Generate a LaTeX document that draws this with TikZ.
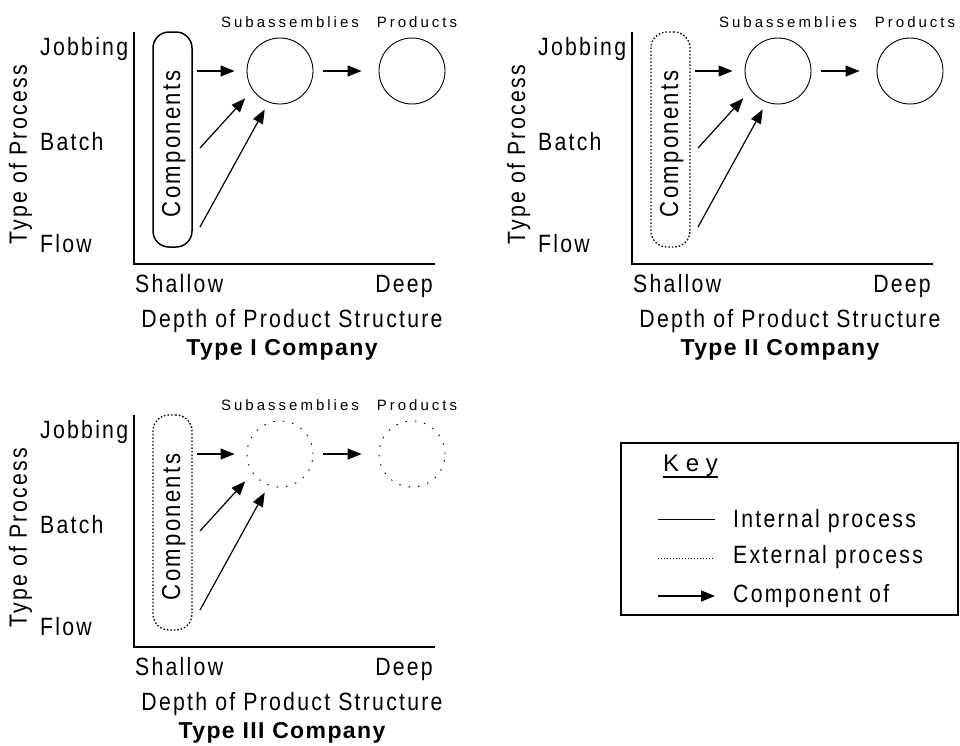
\documentclass[tikz,border=0pt]{standalone}
\usepackage{fontspec}
\setmainfont{Liberation Sans}[FakeStretch=0.85, LetterSpace=9]
\newfontfamily\plainfam{Liberation Sans}
\usetikzlibrary{arrows.meta}
\tikzset{
  lab/.style={font=\fontsize{25}{29}\selectfont, inner sep=0pt},
  complab/.style={font=\fontsize{26}{30}\selectfont, inner sep=0pt},
  small/.style={font=\plainfam\fontsize{15}{18}\selectfont\addfontfeature{LetterSpace=20}, inner sep=0pt},
  ttl/.style={font=\plainfam\fontsize{23}{27}\selectfont\bfseries\addfontfeature{LetterSpace=6}, inner sep=0pt},
  keyt/.style={font=\plainfam\fontsize{24}{28}\selectfont\addfontfeature{LetterSpace=28}, inner sep=0pt},
  axis/.style={line width=1.5pt},
  solidbox/.style={draw, line width=1.5pt, rounded corners=16pt, minimum width=39pt, minimum height=215pt, inner sep=0pt},
  dotbox/.style={solidbox, dotted, line width=1.3pt},
  solidcirc/.style={draw, circle, minimum size=66pt, inner sep=0pt, line width=0.9pt},
  dotcirc/.style={solidcirc, dash pattern=on 1.5pt off 8pt},
  flow/.style={-{Triangle[length=14pt,width=11pt]}, line width=1.2pt},
  keybox/.style={draw, line width=1.3pt, minimum width=337pt, minimum height=172pt, inner sep=0pt},
}
\newcommand\drawpanel[6]{%
\begin{scope}[shift={(#2,#3)}]
  \node[#4] (#1comp) at (172.5,139.5) {};
  \node[complab, rotate=90, anchor=base] (#1comptxt) at (180,144) {Components};
  \node[#5] (#1sub) at (280,71) {};
  \node[#5] (#1prod) at (412,71) {};
  \node[small, anchor=base] (#1subl) at (290,27) {Subassemblies};
  \node[small, anchor=base] (#1prodl) at (417,27) {Products};
  \coordinate (#1top) at (134,32);
  \coordinate (#1orig) at (134,264);
  \coordinate (#1end) at (435,264);
  \draw[axis] (#1top) -- (#1orig) -- (#1end);
  \node[lab, anchor=base west] (#1job) at (40,55) {Jobbing};
  \node[lab, anchor=base west] (#1bat) at (40,150) {Batch};
  \node[lab, anchor=base west] (#1flo) at (40,252) {Flow};
  \node[lab, rotate=90, anchor=base] (#1ylab) at (27,155) {Type of Process};
  \node[lab, anchor=base west] (#1sha) at (135,292) {Shallow};
  \node[lab, anchor=base east] (#1dee) at (433,292) {Deep};
  \node[lab, anchor=base] (#1xlab) at (292,327) {Depth of Product Structure};
  \node[ttl, anchor=base] (#1ttl) at (282,355) {#6};
  \coordinate (#1a) at (197,71);
  \coordinate (#1b) at (200,148);
  \coordinate (#1c) at (200,227);
  \draw[flow, shorten >=12pt] (#1a) -- (#1sub);
  \draw[flow, shorten >=11pt] (#1b) -- (#1sub.215);
  \draw[flow, shorten >=8pt] (#1c) -- (#1sub.250);
  \draw[flow, shorten <=10pt, shorten >=17pt] (#1sub) -- (#1prod);
\end{scope}}
\begin{document}
\begin{tikzpicture}[x=1pt,y=-1pt]
  \useasboundingbox (0,0) rectangle (960,745);
  \drawpanel{p}{0}{0}{solidbox}{solidcirc}{Type I Company}
  \drawpanel{q}{498}{0}{dotbox}{solidcirc}{Type II Company}
  \drawpanel{r}{0}{383}{dotbox}{dotcirc}{Type III Company}
  % key
  \node[keybox] (key) at (789.5,529) {};
  \node[keyt, anchor=base west] (keyl) at (663,471) {Key};
  \draw[line width=1.2pt] ([yshift=-6pt]keyl.base west) -- ([yshift=-6pt]keyl.base east);
  \coordinate (k1a) at (658,519); \coordinate (k1b) at (715,519);
  \coordinate (k2a) at (658,558); \coordinate (k2b) at (715,558);
  \coordinate (k3a) at (658,596); \coordinate (k3b) at (715,596);
  \draw[line width=1pt] (k1a) -- (k1b);
  \draw[line width=1pt, dotted] (k2a) -- (k2b);
  \draw[flow] (k3a) -- (k3b);
  \node[lab, anchor=base west] (kt1) at (733,527) {Internal process};
  \node[lab, anchor=base west] (kt2) at (733,563) {External process};
  \node[lab, anchor=base west] (kt3) at (733,602) {Component of};
\end{tikzpicture}
\end{document}
